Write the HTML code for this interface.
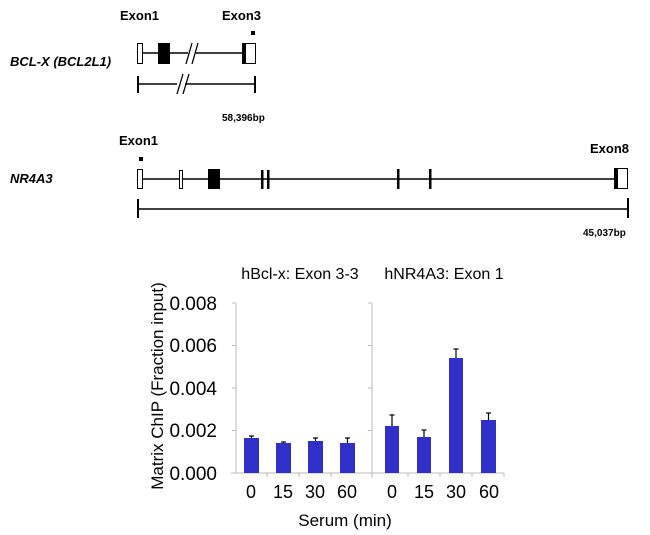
<!DOCTYPE html>
<html><head><meta charset="utf-8"><style>
body{margin:0;background:#fff;}
svg{display:block;}
</style></head><body>
<svg width="650" height="535" xmlns="http://www.w3.org/2000/svg">
<g font-family="Liberation Sans, Arial, sans-serif">
<text x="120" y="20" font-size="13" font-weight="bold">Exon1</text>
<text x="222" y="20" font-size="13" font-weight="bold">Exon3</text>
<rect x="251" y="31" width="4" height="4" fill="#000"/>
<text x="10" y="66" font-size="13" font-weight="bold" font-style="italic">BCL-X (BCL2L1)</text>
<line x1="142" y1="53" x2="188" y2="53" stroke="#000" stroke-width="1.5"/>
<line x1="196" y1="53" x2="243" y2="53" stroke="#000" stroke-width="1.5"/>
<line x1="186" y1="64" x2="192" y2="43" stroke="#000" stroke-width="1.3"/>
<line x1="192" y1="64" x2="198" y2="43" stroke="#000" stroke-width="1.3"/>
<rect x="137.5" y="43.5" width="5" height="20" fill="#fff" stroke="#000"/>
<rect x="158" y="43" width="12" height="21" fill="#000"/>
<rect x="242" y="43" width="4" height="21" fill="#000"/>
<rect x="245.5" y="43.5" width="10" height="20" fill="#fff" stroke="#000"/>
<line x1="138" y1="76" x2="138" y2="93" stroke="#000" stroke-width="2"/>
<line x1="255" y1="76" x2="255" y2="93" stroke="#000" stroke-width="2"/>
<line x1="138" y1="84" x2="177" y2="84" stroke="#000" stroke-width="1.5"/>
<line x1="185" y1="84" x2="255" y2="84" stroke="#000" stroke-width="1.5"/>
<line x1="177" y1="94" x2="183" y2="74" stroke="#000" stroke-width="1.3"/>
<line x1="183" y1="94" x2="189" y2="74" stroke="#000" stroke-width="1.3"/>
<text x="222" y="121" font-size="10" font-weight="bold">58,396bp</text>
<text x="119" y="145" font-size="13" font-weight="bold">Exon1</text>
<rect x="139" y="157" width="4" height="4" fill="#000"/>
<text x="590" y="153" font-size="13" font-weight="bold">Exon8</text>
<text x="10" y="183" font-size="13" font-weight="bold" font-style="italic">NR4A3</text>
<line x1="142" y1="179" x2="615" y2="179" stroke="#000" stroke-width="1.5"/>
<rect x="137.5" y="169.5" width="5" height="19" fill="#fff" stroke="#000"/>
<rect x="179.5" y="170.5" width="3" height="18" fill="#fff" stroke="#000"/>
<rect x="208" y="169" width="12" height="20" fill="#000"/>
<rect x="261" y="170" width="2.5" height="19" fill="#000"/>
<rect x="267" y="170" width="2.5" height="19" fill="#000"/>
<rect x="397" y="169" width="2.5" height="20" fill="#000"/>
<rect x="429" y="169" width="2.5" height="20" fill="#000"/>
<rect x="614" y="168" width="4" height="21" fill="#000"/>
<rect x="617.5" y="168.5" width="10" height="20" fill="#fff" stroke="#000"/>
<line x1="138" y1="199" x2="138" y2="218" stroke="#000" stroke-width="2"/>
<line x1="628" y1="198" x2="628" y2="218" stroke="#000" stroke-width="2"/>
<line x1="138" y1="209" x2="628" y2="209" stroke="#000" stroke-width="1.5"/>
<text x="583" y="236" font-size="10" font-weight="bold">45,037bp</text>
</g>
<g font-family="Liberation Sans, Arial, sans-serif" fill="#000">
<text x="300" y="279" font-size="16" text-anchor="middle">hBcl-x: Exon 3-3</text>
<text x="444" y="279" font-size="16" text-anchor="middle">hNR4A3: Exon 1</text>
<text transform="translate(163,386) rotate(-90)" font-size="17" text-anchor="middle">Matrix ChIP (Fraction input)</text>
<g font-size="19" text-anchor="end">
<text x="217" y="310">0.008</text>
<text x="217" y="352">0.006</text>
<text x="217" y="395">0.004</text>
<text x="217" y="437">0.002</text>
<text x="217" y="480">0.000</text>
</g>
<g stroke="#bbb" stroke-width="1">
<line x1="236" y1="303" x2="236" y2="473"/>
<line x1="372" y1="303" x2="372" y2="478"/>
<line x1="231" y1="473" x2="504" y2="473"/>
<line x1="232" y1="303" x2="236" y2="303"/><line x1="232" y1="345.5" x2="236" y2="345.5"/>
<line x1="232" y1="388" x2="236" y2="388"/><line x1="232" y1="430.5" x2="236" y2="430.5"/>
<line x1="368" y1="303" x2="372" y2="303"/><line x1="368" y1="345.5" x2="372" y2="345.5"/>
<line x1="368" y1="388" x2="372" y2="388"/><line x1="368" y1="430.5" x2="372" y2="430.5"/>
<line x1="267" y1="473" x2="267" y2="477"/><line x1="299" y1="473" x2="299" y2="477"/><line x1="331" y1="473" x2="331" y2="477"/>
<line x1="408" y1="473" x2="408" y2="477"/><line x1="440" y1="473" x2="440" y2="477"/><line x1="472" y1="473" x2="472" y2="477"/><line x1="504" y1="473" x2="504" y2="477"/>
</g>
<g fill="#3030c8">
<rect x="244" y="438" width="15" height="35"/>
<rect x="276" y="443" width="15" height="30"/>
<rect x="308" y="441" width="15" height="32"/>
<rect x="340" y="443" width="15" height="30"/>
<rect x="385" y="426" width="14" height="47"/>
<rect x="417" y="437" width="14" height="36"/>
<rect x="449" y="358" width="14" height="115"/>
<rect x="481" y="420" width="15" height="53"/>
</g>
<g stroke="#000" stroke-width="1.2">
<line x1="251.5" y1="438" x2="251.5" y2="436"/><line x1="249" y1="436" x2="254" y2="436"/>
<line x1="283.5" y1="443" x2="283.5" y2="442"/><line x1="281" y1="442" x2="286" y2="442"/>
<line x1="315.5" y1="441" x2="315.5" y2="438"/><line x1="313" y1="438" x2="318" y2="438"/>
<line x1="347.5" y1="443" x2="347.5" y2="438"/><line x1="345" y1="438" x2="350" y2="438"/>
<line x1="392" y1="426" x2="392" y2="415"/><line x1="389.5" y1="415" x2="394.5" y2="415"/>
<line x1="424" y1="437" x2="424" y2="430"/><line x1="421.5" y1="430" x2="426.5" y2="430"/>
<line x1="456" y1="358" x2="456" y2="349"/><line x1="453.5" y1="349" x2="458.5" y2="349"/>
<line x1="488.5" y1="420" x2="488.5" y2="413"/><line x1="486" y1="413" x2="491" y2="413"/>
</g>
<g font-size="18" text-anchor="middle">
<text x="251" y="498">0</text><text x="283" y="498">15</text><text x="315" y="498">30</text><text x="347" y="498">60</text>
<text x="392" y="498">0</text><text x="424" y="498">15</text><text x="456" y="498">30</text><text x="489" y="498">60</text>
</g>
<text x="345" y="526" font-size="17" text-anchor="middle">Serum (min)</text>
</g>
</svg>
</body></html>
